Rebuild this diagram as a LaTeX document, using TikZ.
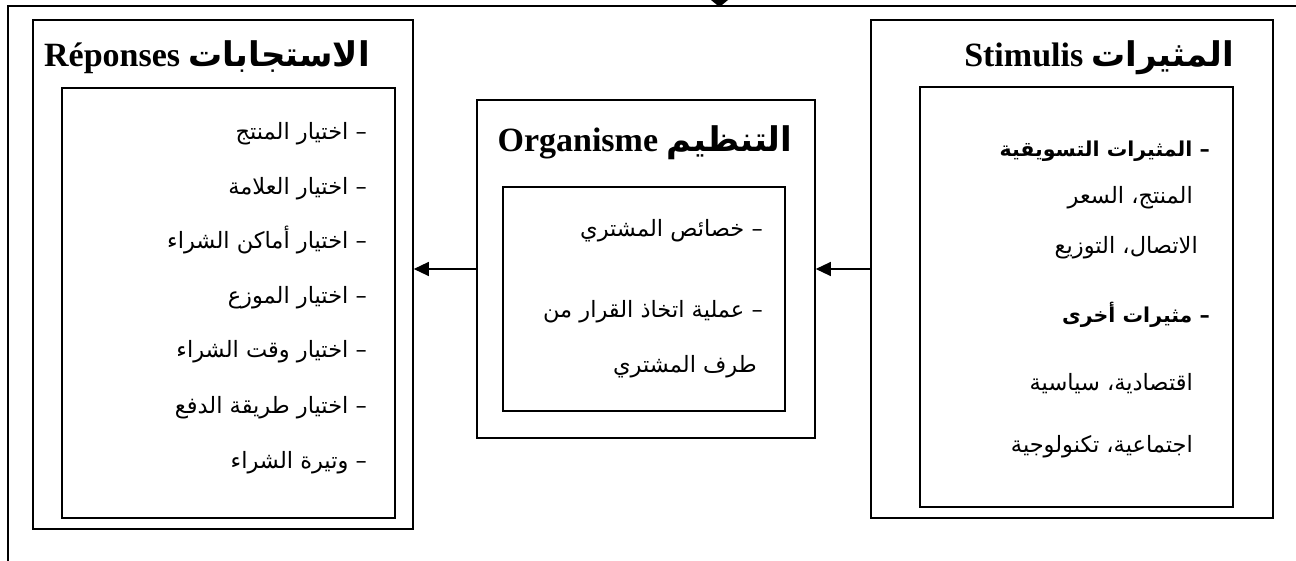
\documentclass[tikz,border=0pt]{standalone}
\usepackage{fontspec}
\setmainfont{Liberation Serif}
\newfontfamily\arabicfont[Script=Arabic]{DejaVu Sans}
\TeXXeTstate=1
\usetikzlibrary{arrows.meta}

% Arabic run, set right to left
\newcommand{\ar}[1]{{\arabicfont\beginR #1\endR}}

\tikzset{
  box/.style={draw, line width=1.6pt, inner sep=0pt},
  heading/.style={font=\fontsize{34}{40}\selectfont\bfseries, inner sep=0pt, anchor=base},
  item/.style={font=\fontsize{22.5}{26}\selectfont, inner sep=0pt, anchor=base east},
  bolditem/.style={item, font=\fontsize{20.5}{24}\selectfont\bfseries},
  conn/.style={line width=1.3pt, -{Triangle[length=15pt,width=14pt]}},
}

\begin{document}
\begin{tikzpicture}[x=1pt,y=-1pt]
\useasboundingbox (0,0) rectangle (1296,561);

% page frame
\draw[line width=1.2pt] (8,561) -- (8,6) -- (1296,6);
% tip of a pointer coming in over the top edge
\fill (711,0) -- (728,0) -- (719.5,7) -- cycle;

% responses
\node[box, minimum width=380pt, minimum height=509pt] (L) at (223,274.5) {};
\node[box, minimum width=333pt, minimum height=430pt] (Li) at (228.5,303) {};
\node[heading] (Lt) at (207,67) {Réponses \ar{الاستجابات}};
\node[item] (l1) at (367,140) {\ar{– اختيار المنتج}};
\node[item] (l2) at (367,195) {\ar{– اختيار العلامة}};
\node[item] (l3) at (367,249) {\ar{– اختيار أماكن الشراء}};
\node[item] (l4) at (367,304) {\ar{– اختيار الموزع}};
\node[item] (l5) at (367,358) {\ar{– اختيار وقت الشراء}};
\node[item] (l6) at (367,413) {\ar{– اختيار طريقة الدفع}};
\node[item] (l7) at (367,468) {\ar{– وتيرة الشراء}};

% organism
\node[box, minimum width=338pt, minimum height=338pt] (M) at (646,269) {};
\node[box, minimum width=282pt, minimum height=224pt] (Mi) at (644,299) {};
\node[heading] (Mt) at (645,152) {Organisme \ar{التنظيم}};
\node[item] (m1) at (763,237) {\ar{– خصائص المشتري}};
\node[item] (m2) at (763,318) {\ar{– عملية اتخاذ القرار من}};
\node[item] (m3) at (757,372) {\ar{طرف المشتري}};

% stimuli
\node[box, minimum width=402pt, minimum height=498pt] (R) at (1072,269) {};
\node[box, minimum width=313pt, minimum height=420pt] (Ri) at (1076.5,297) {};
\node[heading] (Rt) at (1099,67) {Stimulis \ar{المثيرات}};
\node[bolditem] (r1) at (1210,157) {\ar{– المثيرات التسويقية}};
\node[item] (r2) at (1193,204) {\ar{المنتج، السعر}};
\node[item] (r3) at (1198,254) {\ar{الاتصال، التوزيع}};
\node[bolditem] (r4) at (1210,323) {\ar{– مثيرات أخرى}};
\node[item] (r5) at (1193,390) {\ar{اقتصادية، سياسية}};
\node[item] (r6) at (1193,452) {\ar{اجتماعية، تكنولوجية}};

% flow between the blocks
\draw[conn] (R.west) -- (M.east);
\draw[conn] (M.west) -- (M.west -| L.east);
\end{tikzpicture}
\end{document}
